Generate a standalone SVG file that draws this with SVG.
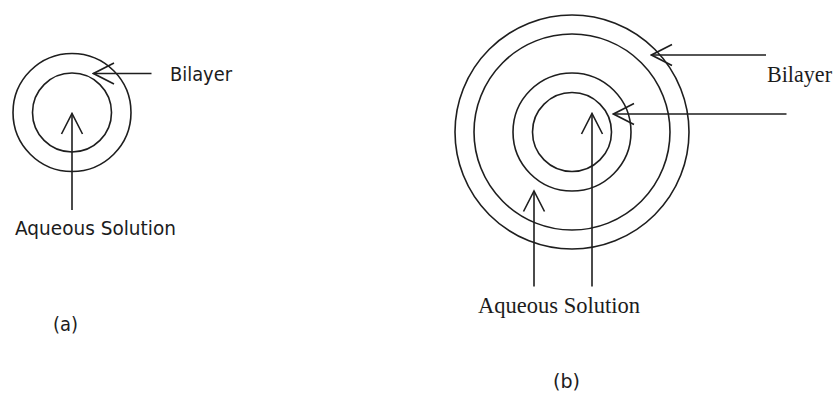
<svg xmlns="http://www.w3.org/2000/svg" width="836" height="393" viewBox="0 0 836 393">
<defs>
<style>
.ring{fill:none;stroke:#1e1e1e;stroke-width:1.6}
.ln{fill:none;stroke:#1e1e1e;stroke-width:1.6;marker-end:url(#v)}
.sans{font-family:"DejaVu Sans","Liberation Sans",sans-serif;font-size:19px;fill:#1c1c1c}
.serif{font-family:"Liberation Serif","Times New Roman",serif;font-size:23px;fill:#1c1c1c}
</style>
<marker id="v" markerUnits="userSpaceOnUse" viewBox="-22 -12 24 24" refX="0" refY="0" markerWidth="24" markerHeight="24" orient="auto">
<path d="M-20.5,-10.5 L0,0 L-20.5,10.5" fill="none" stroke="#1e1e1e" stroke-width="1.6"/>
</marker>
</defs>
<rect width="836" height="393" fill="#fff"/>
<g id="vesicle-a">
<circle class="ring" cx="72" cy="112.5" r="59"/>
<circle class="ring" cx="72" cy="112.5" r="39.5"/>
</g>
<g id="vesicle-b">
<circle class="ring" cx="572" cy="132" r="117"/>
<circle class="ring" cx="572" cy="132" r="98"/>
<circle class="ring" cx="572" cy="132" r="59"/>
<circle class="ring" cx="572" cy="132" r="39.5"/>
</g>
<g id="connectors">
<line class="ln" x1="151.5" y1="73.5" x2="93.5" y2="73.5"/>
<line class="ln" x1="72" y1="210" x2="72" y2="113.5"/>
<line class="ln" x1="766" y1="55" x2="651.5" y2="55"/>
<line class="ln" x1="786.5" y1="114" x2="613.5" y2="114"/>
<line class="ln" x1="534" y1="286.5" x2="534" y2="191"/>
<line class="ln" x1="592" y1="286.5" x2="592" y2="113.5"/>
</g>
<g id="labels-a">
<text class="sans" x="170" y="81" textLength="62" lengthAdjust="spacingAndGlyphs">Bilayer</text>
<text class="sans" x="15" y="235" textLength="161" lengthAdjust="spacingAndGlyphs">Aqueous Solution</text>
<text class="sans" x="53" y="331" textLength="25" lengthAdjust="spacingAndGlyphs">(a)</text>
</g>
<g id="labels-b">
<text class="serif" x="767" y="82" textLength="65" lengthAdjust="spacingAndGlyphs">Bilayer</text>
<text class="serif" x="478" y="313" textLength="162" lengthAdjust="spacingAndGlyphs">Aqueous Solution</text>
<text class="sans" x="553" y="388" textLength="27" lengthAdjust="spacingAndGlyphs">(b)</text>
</g>
</svg>
